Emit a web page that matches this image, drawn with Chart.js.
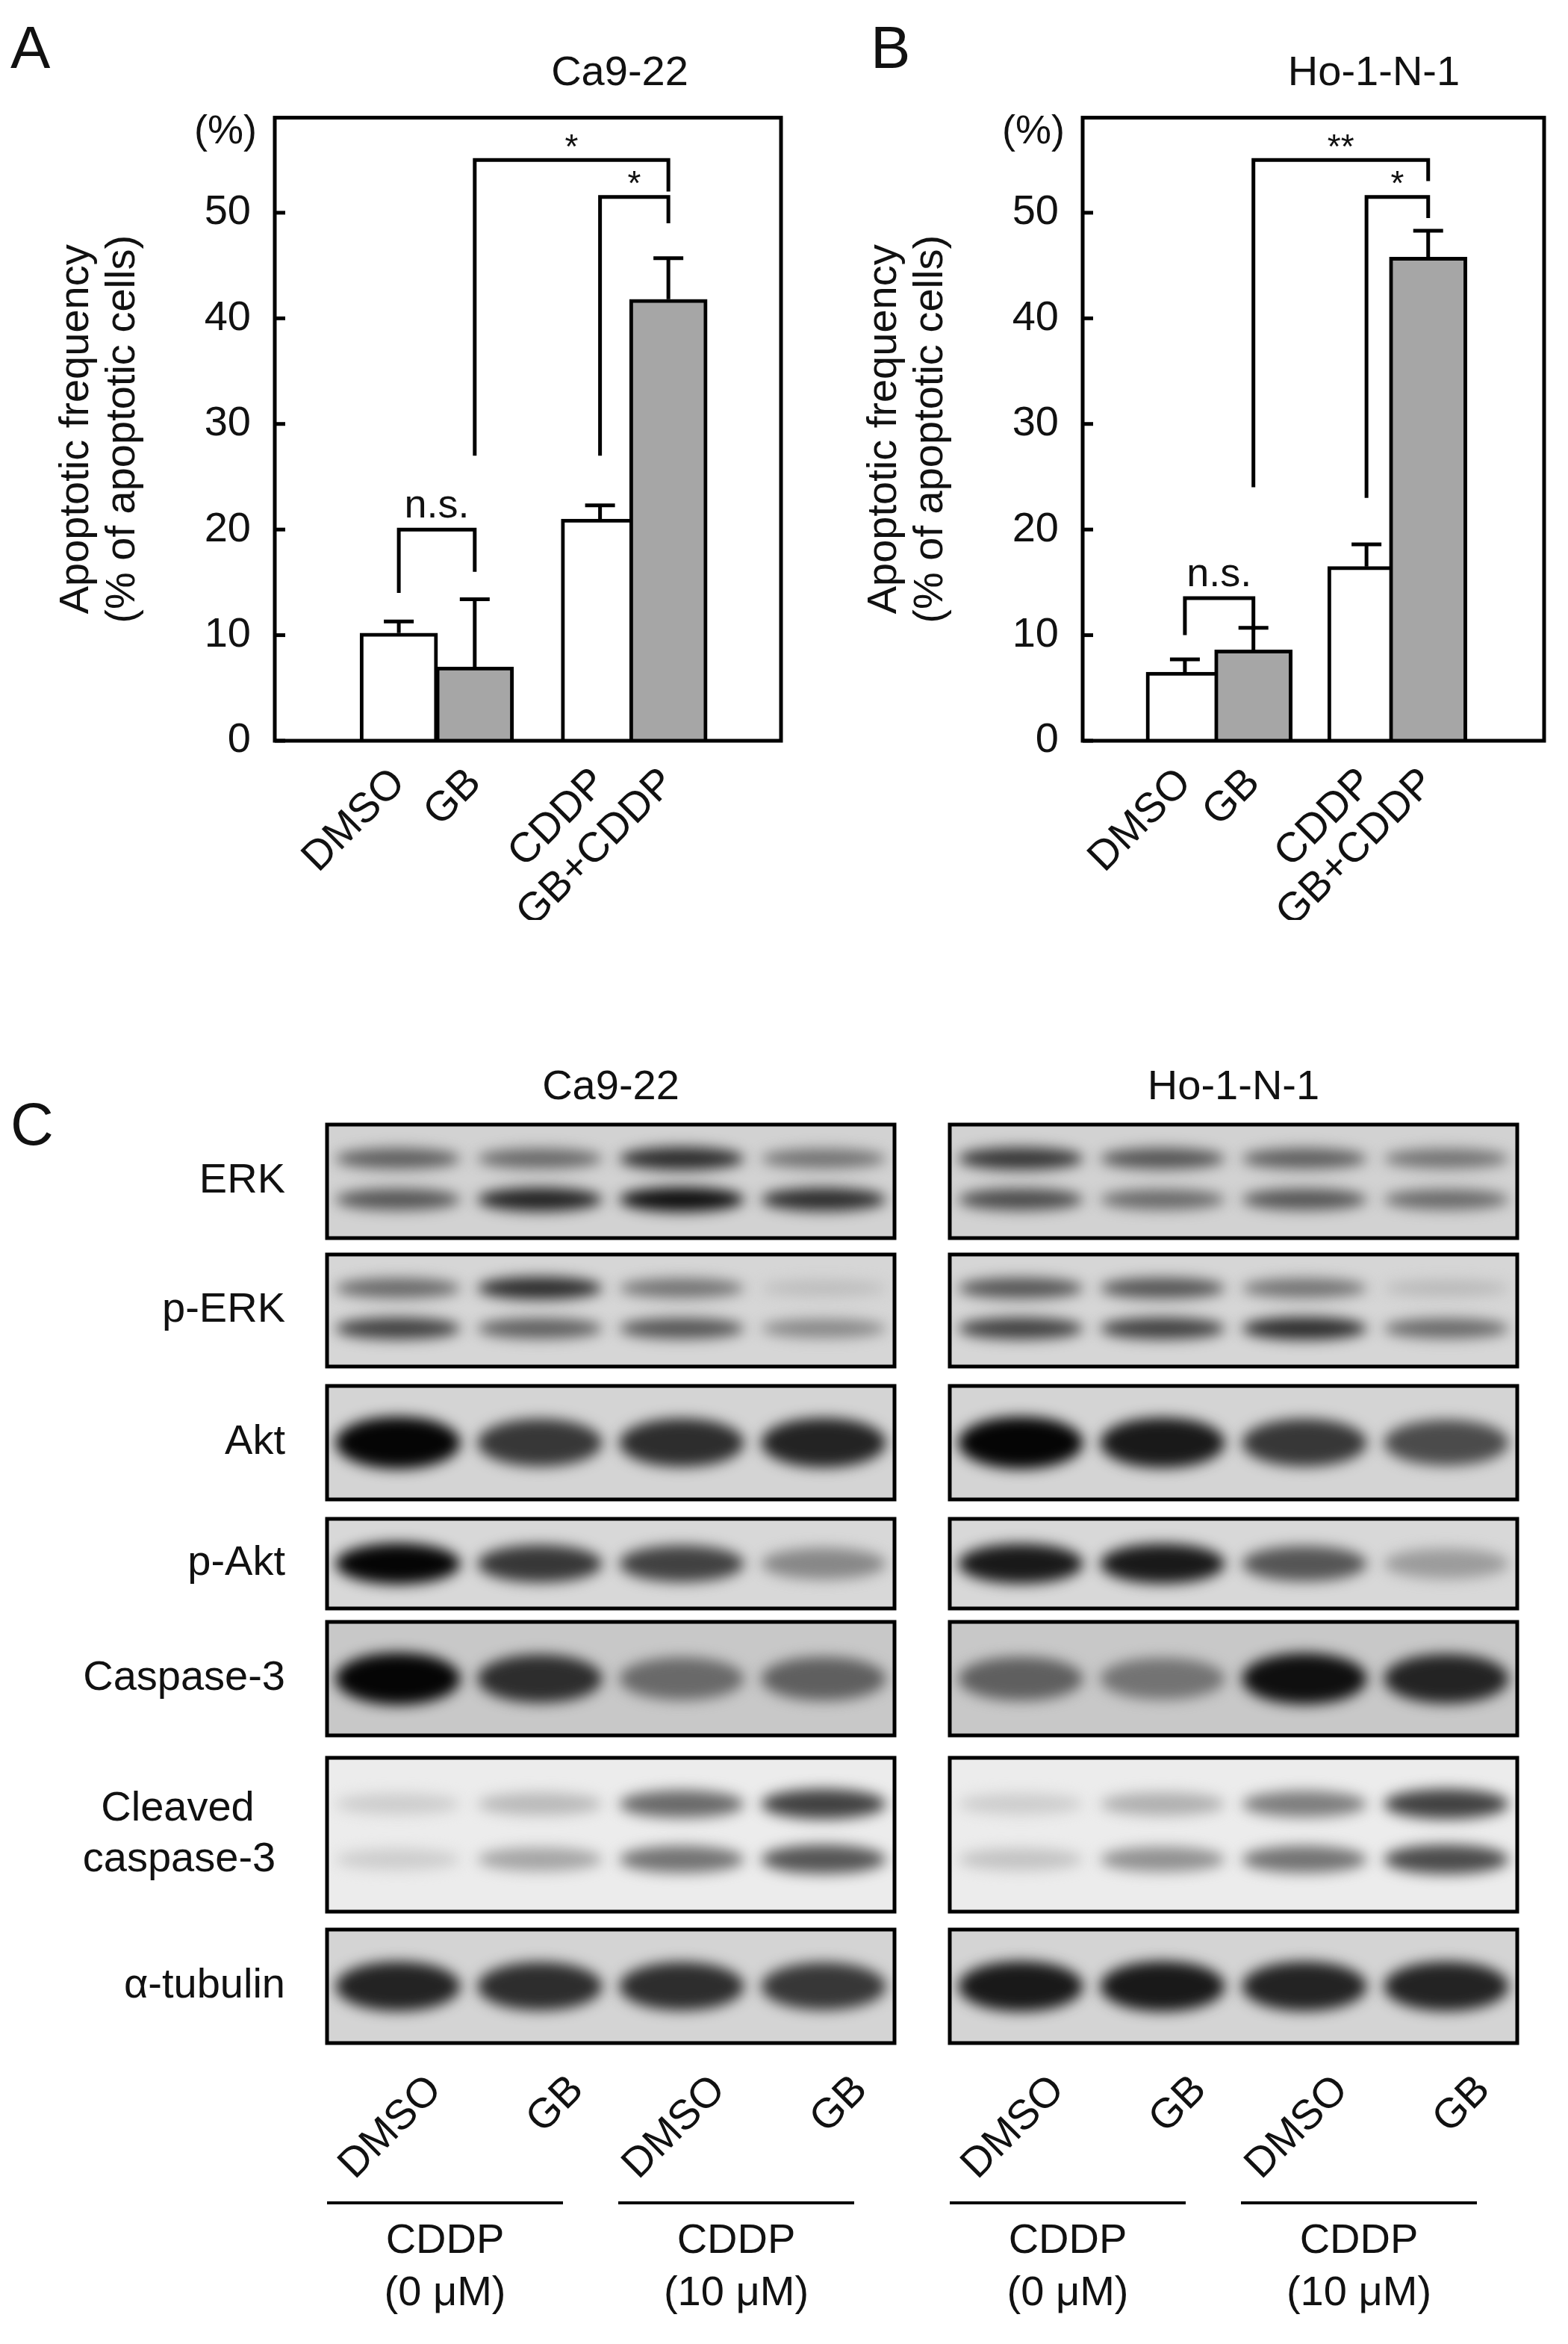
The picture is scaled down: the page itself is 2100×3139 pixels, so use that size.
<!DOCTYPE html>
<html>
<head>
<meta charset="utf-8">
<script src="https://cdn.jsdelivr.net/npm/chart.js@4.4.1/dist/chart.umd.min.js"></script>
<style>
  body { margin: 0; width: 2100px; height: 3139px; background: #fff; position: relative; font-family: "Liberation Sans", Arial, sans-serif; overflow: hidden; }
  .t { position: absolute; color: #111; white-space: nowrap; }
  canvas.c { position: absolute; }
</style>
</head>
<body>

<div class="t" style="left:14px;top:18px;font-size:80px;">A</div>
<div class="t" style="left:1166px;top:18px;font-size:80px;">B</div>
<div class="t" style="left:14px;top:1460px;font-size:80px;">C</div>
<div class="t" style="left:690px;top:62px;font-size:56px;width:280px;text-align:center;">Ca9-22</div>
<div class="t" style="left:1690px;top:62px;font-size:56px;width:300px;text-align:center;">Ho-1-N-1</div>

<div style="position:absolute;left:40px;top:100px;width:1010px;height:1132px;"><canvas id="chartA" class="c"></canvas></div>
<div style="position:absolute;left:1062px;top:100px;width:1010px;height:1132px;"><canvas id="chartB" class="c"></canvas></div>

<canvas id="blots" class="c" width="2100" height="1739" style="left:0;top:1400px;width:2100px;height:1739px;"></canvas>

<script>
// ==========================
// data (panels A, B)
// ==========================
const groups = ["DMSO", "GB", "CDDP", "GB+CDDP"];
const groupPos = [0, 1, 2.65, 3.55];
const barColors = ["#ffffff", "#a6a6a6", "#ffffff", "#a6a6a6"];

const caMean = [10.2, 7.0, 21.0, 41.8];
const caErr = [1.1, 6.4, 1.3, 3.9];
const hoMean = [6.5, 8.6, 16.5, 45.8];
const hoErr = [1.2, 2.1, 2.1, 2.5];

const yTicks = [0, 10, 20, 30, 40, 50];

// brackets: [fromIdx, toIdx, fromY, barY, toY, label]
const caBrackets = [
    [0, 1, 14, 20, 16, "n.s."],
    [1, 3, 27, 55, 52, "*"],
    [2, 3, 27, 51.5, 49, "*"]
];
const hoBrackets = [
    [0, 1, 10, 13.5, 10.5, "n.s."],
    [1, 3, 24, 55, 53, "**"],
    [2, 3, 23, 51.5, 49.5, "*"]
];

// ==========================
// data (panel C, band darkness 0..1 per lane)
// ==========================
const blotRows = ["ERK", "p-ERK", "Akt", "p-Akt", "Caspase-3", "Cleaved\ncaspase-3", "α-tubulin"];
const laneLabels = ["DMSO", "GB", "DMSO", "GB"];
const caBands = [
    [[0.55, 0.5, 0.8, 0.45], [0.6, 0.85, 0.95, 0.8]],
    [[0.5, 0.8, 0.45, 0.08], [0.7, 0.55, 0.6, 0.35]],
    [[1, 0.75, 0.8, 0.85]],
    [[1, 0.75, 0.7, 0.35]],
    [[1, 0.8, 0.5, 0.55]],
    [[0, 0.1, 0.5, 0.7], [0, 0.2, 0.45, 0.6]],
    [[0.85, 0.8, 0.8, 0.75]]
];
const hoBands = [
    [[0.75, 0.6, 0.55, 0.45], [0.65, 0.5, 0.6, 0.5]],
    [[0.6, 0.6, 0.45, 0.1], [0.7, 0.7, 0.8, 0.5]],
    [[1, 0.9, 0.75, 0.65]],
    [[0.9, 0.9, 0.6, 0.25]],
    [[0.55, 0.45, 0.95, 0.85]],
    [[0, 0.15, 0.4, 0.7], [0.05, 0.3, 0.45, 0.65]],
    [[0.9, 0.9, 0.85, 0.85]]
];

const FONT = "Liberation Sans, Arial, sans-serif";

// ==========================
// bar chart
// ==========================
const framePlugin = {
    id: "frame",
    afterDatasetsDraw(chart, args, opts) {
        const { ctx, chartArea: a, scales: { x, y } } = chart;
        ctx.save();
        ctx.strokeStyle = "#000";
        ctx.lineWidth = 5;
        ctx.strokeRect(a.left, a.top, a.right - a.left, a.bottom - a.top);
        // inward ticks
        for (const v of yTicks) {
            const py = y.getPixelForValue(v);
            ctx.beginPath(); ctx.moveTo(a.left, py); ctx.lineTo(a.left + 14, py); ctx.stroke();
        }
        // error bars
        const cap = 40;
        opts.mean.forEach((m, i) => {
            const px = x.getPixelForValue(groupPos[i]);
            const y0 = y.getPixelForValue(m), y1 = y.getPixelForValue(m + opts.err[i]);
            ctx.beginPath();
            ctx.moveTo(px, y0); ctx.lineTo(px, y1);
            ctx.moveTo(px - cap / 2, y1); ctx.lineTo(px + cap / 2, y1);
            ctx.stroke();
        });
        // significance brackets
        ctx.fillStyle = "#111";
        ctx.textAlign = "center";
        ctx.textBaseline = "bottom";
        for (const [i, j, fy, by, ty, lab] of opts.brackets) {
            const px1 = x.getPixelForValue(groupPos[i]), px2 = x.getPixelForValue(groupPos[j]);
            ctx.beginPath();
            ctx.moveTo(px1, y.getPixelForValue(fy));
            ctx.lineTo(px1, y.getPixelForValue(by));
            ctx.lineTo(px2, y.getPixelForValue(by));
            ctx.lineTo(px2, y.getPixelForValue(ty));
            ctx.stroke();
            ctx.font = (lab === "n.s." ? "54px " : "46px ") + FONT;
            ctx.fillText(lab, (px1 + px2) / 2, y.getPixelForValue(by) - (lab === "n.s." ? 4 : -8));
        }
        ctx.font = "54px " + FONT;
        ctx.textAlign = "right";
        ctx.textBaseline = "middle";
        ctx.fillText("(%)", a.left - 24, a.top + 20);
        ctx.restore();
    }
};

function drawBarChart(id, mean, err, brackets, xMin, xMax) {
    new Chart(document.getElementById(id), {
        type: "bar",
        data: {
            datasets: [{
                data: mean.map((v, i) => ({ x: groupPos[i], y: v })),
                backgroundColor: barColors,
                borderColor: "#000",
                borderWidth: 5,
                borderSkipped: "bottom",
                barThickness: 104
            }]
        },
        options: {
            responsive: true,
            maintainAspectRatio: false,
            animation: false,
            devicePixelRatio: 1,
            layout: { padding: { left: 28, top: 22, right: 4, bottom: 0 } },
            plugins: {
                legend: { display: false },
                tooltip: { enabled: false },
                frame: { mean, err, brackets }
            },
            scales: {
                x: {
                    type: "linear", min: xMin, max: xMax,
                    grid: { display: false },
                    border: { display: false },
                    afterBuildTicks: s => { s.ticks = groupPos.map(v => ({ value: v })); },
                    afterFit: s => { s.height = 240; },
                    ticks: {
                        callback: (v, i) => groups[i],
                        color: "#111", font: { size: 56, family: FONT },
                        maxRotation: 45, minRotation: 45, padding: 16
                    }
                },
                y: {
                    min: 0, max: 59,
                    grid: { display: false },
                    border: { display: false },
                    afterBuildTicks: s => { s.ticks = yTicks.map(v => ({ value: v })); },
                    afterFit: s => { s.width = 300; },
                    ticks: { color: "#111", font: { size: 56, family: FONT }, padding: 24 },
                    title: {
                        display: true,
                        text: ["Apoptotic frequency", "(% of apoptotic cells)"],
                        color: "#111", font: { size: 56, family: FONT, lineHeight: 1.1 }, padding: 4
                    }
                }
            }
        },
        plugins: [framePlugin]
    });
}

drawBarChart("chartA", caMean, caErr, caBrackets, -0.8, 4.2);
drawBarChart("chartB", hoMean, hoErr, hoBrackets, -0.65, 4.4);
document.getElementById("chartB").parentNode.style.left = "1122px";
document.getElementById("chartB").parentNode.style.width = "950px";

// ==========================
// western blots (panel C)
// ==========================
function drawBlots() {
    const cv = document.getElementById("blots");
    const ctx = cv.getContext("2d");
    const off = 1400;
    const rowTop = [1506, 1680, 1856, 2034, 2172, 2354, 2584].map(v => v - off);
    const rowBot = [1658, 1830, 2008, 2154, 2324, 2560, 2736].map(v => v - off);
    const panels = [[438, 1198, caBands], [1272, 2032, hoBands]];
    const bgs = ["#d2d2d2", "#d6d6d6", "#d4d4d4", "#d8d8d8", "#c8c8c8", "#ececec", "#d4d4d4"];

    ctx.font = "56px " + FONT;
    ctx.fillStyle = "#111";
    ctx.textAlign = "center";
    ctx.fillText("Ca9-22", 818, 1472 - off);
    ctx.fillText("Ho-1-N-1", 1652, 1472 - off);

    blotRows.forEach((name, r) => {
        const t = rowTop[r], b = rowBot[r], h = b - t;
        ctx.fillStyle = "#111";
        ctx.textAlign = "right";
        ctx.textBaseline = "middle";
        ctx.font = "56px " + FONT;
        const lines = name.split("\n");
        if (lines.length === 1) ctx.fillText(name, 382, (t + b) / 2);
        else {
            ctx.textAlign = "center";
            ctx.fillText(lines[0], 238, (t + b) / 2 - 34);
            ctx.fillText(lines[1], 240, (t + b) / 2 + 34);
        }
        for (const [l, rr, bands] of panels) {
            const w = rr - l, lw = w / 4;
            ctx.save();
            ctx.beginPath(); ctx.rect(l, t, w, h); ctx.clip();
            ctx.fillStyle = bgs[r];
            ctx.fillRect(l, t, w, h);
            ctx.filter = "blur(9px)";
            const set = bands[r];
            set.forEach((lane, k) => {
                const fy = set.length === 1 ? 0.5 : (k === 0 ? 0.3 : 0.66);
                const bh = set.length === 1 ? h * 0.42 : h * 0.2;
                lane.forEach((v, i) => {
                    const g = Math.round(205 - 200 * v);
                    ctx.fillStyle = `rgb(${g},${g},${g})`;
                    ctx.beginPath();
                    ctx.ellipse(l + lw * (i + 0.5), t + h * fy, lw * 0.44, bh / 2 * (0.7 + 0.4 * v), 0, 0, Math.PI * 2);
                    ctx.fill();
                });
            });
            ctx.restore();
            ctx.strokeStyle = "#000";
            ctx.lineWidth = 5;
            ctx.strokeRect(l, t, w, h);
        }
    });

    // lane labels + CDDP groups
    for (const [l, rr] of panels) {
        const lw = (rr - l) / 4;
        ctx.font = "56px " + FONT;
        ctx.fillStyle = "#111";
        laneLabels.forEach((lab, i) => {
            ctx.save();
            ctx.translate(l + lw * (i + 0.5) + 50, 2790 - off);
            ctx.rotate(-Math.PI / 4);
            ctx.textAlign = "right";
            ctx.textBaseline = "middle";
            ctx.fillText(lab, 0, 0);
            ctx.restore();
        });
        const gl = [[l, l + 316, "(0 μM)"], [l + 390, l + 706, "(10 μM)"]];
        for (const [a, b, dose] of gl) {
            ctx.lineWidth = 4;
            ctx.beginPath(); ctx.moveTo(a, 2950 - off); ctx.lineTo(b, 2950 - off); ctx.stroke();
            ctx.textAlign = "center";
            ctx.textBaseline = "middle";
            ctx.fillText("CDDP", (a + b) / 2, 3002 - off);
            ctx.fillText(dose, (a + b) / 2, 3072 - off);
        }
    }
}
drawBlots();
</script>
</body>
</html>
